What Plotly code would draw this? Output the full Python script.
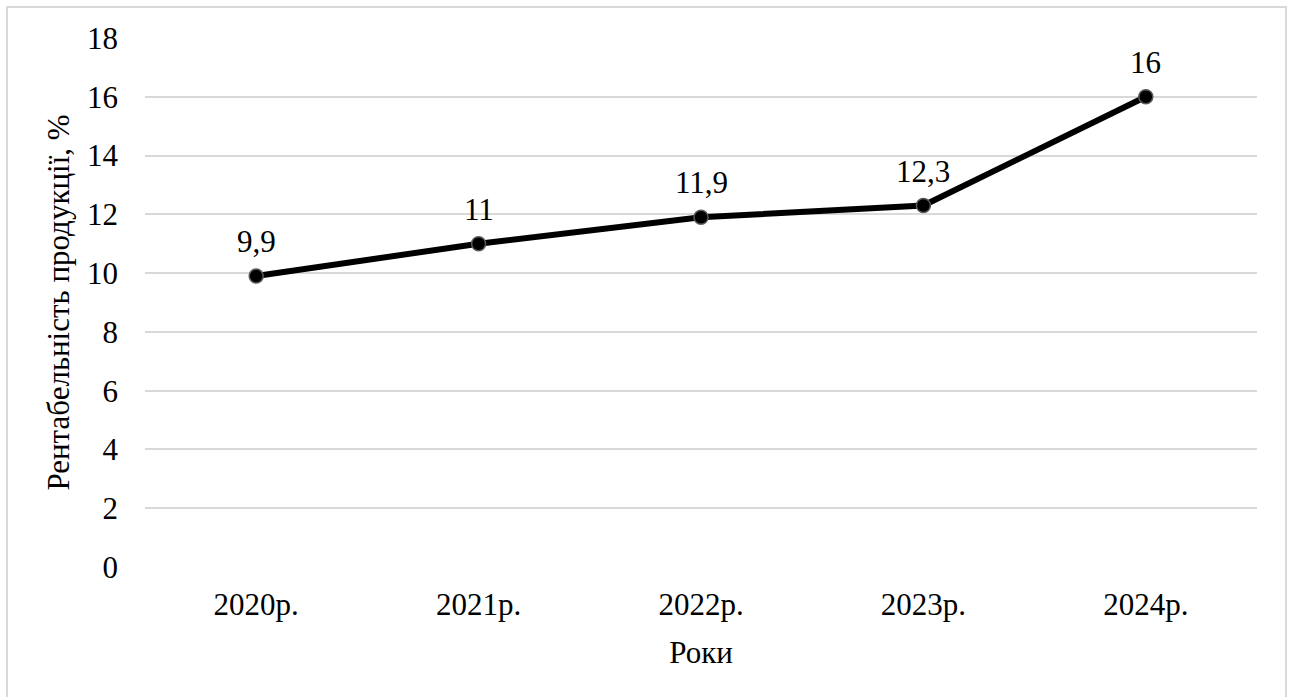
import plotly.graph_objects as go

years = ["2020р.", "2021р.", "2022р.", "2023р.", "2024р."]
profitability = [9.9, 11, 11.9, 12.3, 16]
y_ticks = [0, 2, 4, 6, 8, 10, 12, 14, 16, 18]

labels = [f"{v:g}".replace(".", ",") for v in profitability]

FONT = "Liberation Serif"

fig = go.Figure()
fig.add_trace(go.Scatter(
    x=years,
    y=profitability,
    mode="lines+markers",
    line=dict(color="black", width=6),
    marker=dict(size=14, color="black", line=dict(color="#595959", width=1.5)),
    cliponaxis=False,
    showlegend=False,
))

# value labels above each point
for yr, val, lab in zip(years, profitability, labels):
    fig.add_annotation(
        x=yr, y=val, text=lab, showarrow=False,
        xanchor="center", yanchor="bottom", yshift=15,
        font=dict(family=FONT, size=31, color="black"),
    )

fig.update_layout(
    width=1291,
    height=697,
    margin=dict(l=145, r=34, t=38, b=130),
    paper_bgcolor="white",
    plot_bgcolor="white",
    font=dict(family=FONT, size=31, color="black"),
    xaxis=dict(
        type="category",
        range=[-0.5, 4.5],
        showgrid=False,
        showline=False,
        ticks="",
        ticklabelstandoff=16,
        title=dict(text="Роки", font=dict(family=FONT, size=31), standoff=20),
        tickfont=dict(family=FONT, size=31),
    ),
    yaxis=dict(
        range=[0, 18],
        tickvals=y_ticks,
        showgrid=True,
        gridcolor="#d9d9d9",
        gridwidth=1.5,
        zeroline=False,
        showline=False,
        ticks="",
        ticklabelstandoff=26,
        title=dict(text="Рентабельність продукції, %", font=dict(family=FONT, size=31), standoff=8),
        tickfont=dict(family=FONT, size=31),
    ),
    shapes=[dict(
        type="rect", xref="paper", yref="paper",
        x0=-0.1241, x1=1.0261, y0=-0.3, y1=1.0586,
        line=dict(color="#d9d9d9", width=2), fillcolor="rgba(0,0,0,0)",
        layer="below",
    )],
)

fig.write_html("out.html")
